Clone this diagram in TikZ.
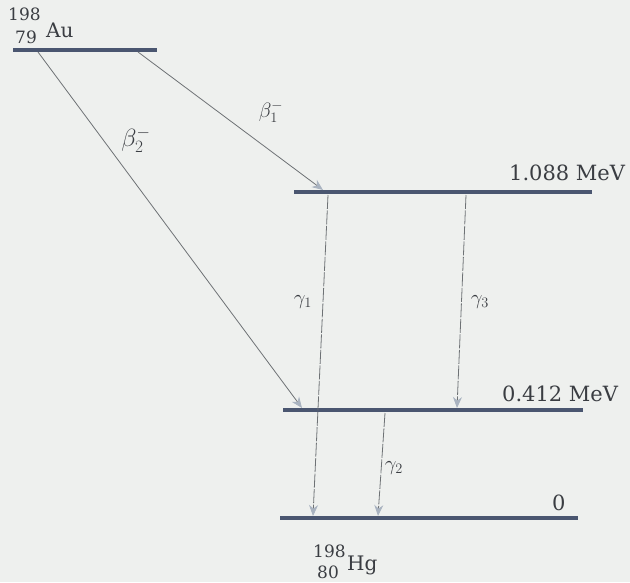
\documentclass[tikz,border=0pt]{standalone}
\usepackage{fontspec}
\setmainfont{DejaVu Serif}
\usetikzlibrary{arrows.meta}
\definecolor{bg}{HTML}{EEF0EE}
\definecolor{lvl}{HTML}{4A5670}
\definecolor{arr}{HTML}{6E7275}
\definecolor{tip}{HTML}{A9B3C0}
\definecolor{txt}{HTML}{3A3D42}
\tikzset{
  level/.style={draw=lvl, line width=3.8pt},
  trans/.style={draw=arr, line width=0.8pt, -{Stealth[length=11pt,width=9pt,color=tip,fill=tip]}},
  gtrans/.style={trans, dash pattern=on 14pt off 1.5pt},
  lab/.style={text=txt, font=\fontsize{21}{25}\selectfont, inner sep=0pt},
  iso/.style={text=txt, font=\fontsize{20}{24}\selectfont, inner sep=0pt},
  small/.style={text=txt, font=\fontsize{17}{20}\selectfont, inner sep=0pt},
  glab/.style={text=txt, font=\fontsize{20}{24}\selectfont, inner sep=0pt}
}
\begin{document}
\begin{tikzpicture}[x=1pt,y=-1pt]
\fill[bg] (0,0) rectangle (630,582);
\useasboundingbox (0,0) rectangle (630,582);
% levels
\coordinate (auL) at (13,50); \coordinate (auR) at (157,50);
\draw[level] (auL) -- (auR);
\coordinate (l1L) at (294,192); \coordinate (l1R) at (592,192);
\draw[level] (l1L) -- (l1R);
\coordinate (l2L) at (283,410); \coordinate (l2R) at (583,410);
\draw[level] (l2L) -- (l2R);
\coordinate (l0L) at (280,518); \coordinate (l0R) at (578,518);
\draw[level] (l0L) -- (l0R);
% isotope labels
\node[small, anchor=base west] (aum) at (8,20) {198};
\node[small, anchor=base west] (auz) at (15,43) {79};
\node[iso, anchor=base west] (au) at (46,37) {Au};
\node[small, anchor=base west] (hgm) at (313,557) {198};
\node[small, anchor=base west] (hgz) at (317,578) {80};
\node[iso, anchor=base west] (hg) at (347,570) {Hg};
% energies
\node[lab, anchor=base west] (e1) at (509,180) {1.088 MeV};
\node[lab, anchor=base west] (e2) at (502,401) {0.412 MeV};
\node[lab, anchor=base west] (e0) at (552,510) {0};
% beta transitions
\coordinate (b1s) at (138,52); \coordinate (b1e) at (323,190);
\coordinate (b2s) at (38,52); \coordinate (b2e) at (302,408);
\draw[trans] (b1s) -- (b1e);
\draw[trans] (b2s) -- (b2e);
\node[text=txt, font=\fontsize{22}{26}\selectfont, inner sep=0pt] (beta1) at (271,112) {$\beta_1^-$};
\node[text=txt, font=\fontsize{26}{30}\selectfont, inner sep=0pt] (beta2) at (136,140) {$\beta_2^-$};
% gamma transitions
\coordinate (g1s) at (328,195); \coordinate (g1e) at (313,516);
\coordinate (g3s) at (466,195); \coordinate (g3e) at (457,408);
\coordinate (g2s) at (385,413); \coordinate (g2e) at (378,516);
\draw[gtrans] (g1s) -- (g1e);
\draw[gtrans] (g3s) -- (g3e);
\draw[gtrans] (g2s) -- (g2e);
\node[glab] (gam1) at (303,302) {$\gamma_1$};
\node[glab] (gam3) at (480,302) {$\gamma_3$};
\node[glab] (gam2) at (394,468) {$\gamma_2$};
\end{tikzpicture}
\end{document}
